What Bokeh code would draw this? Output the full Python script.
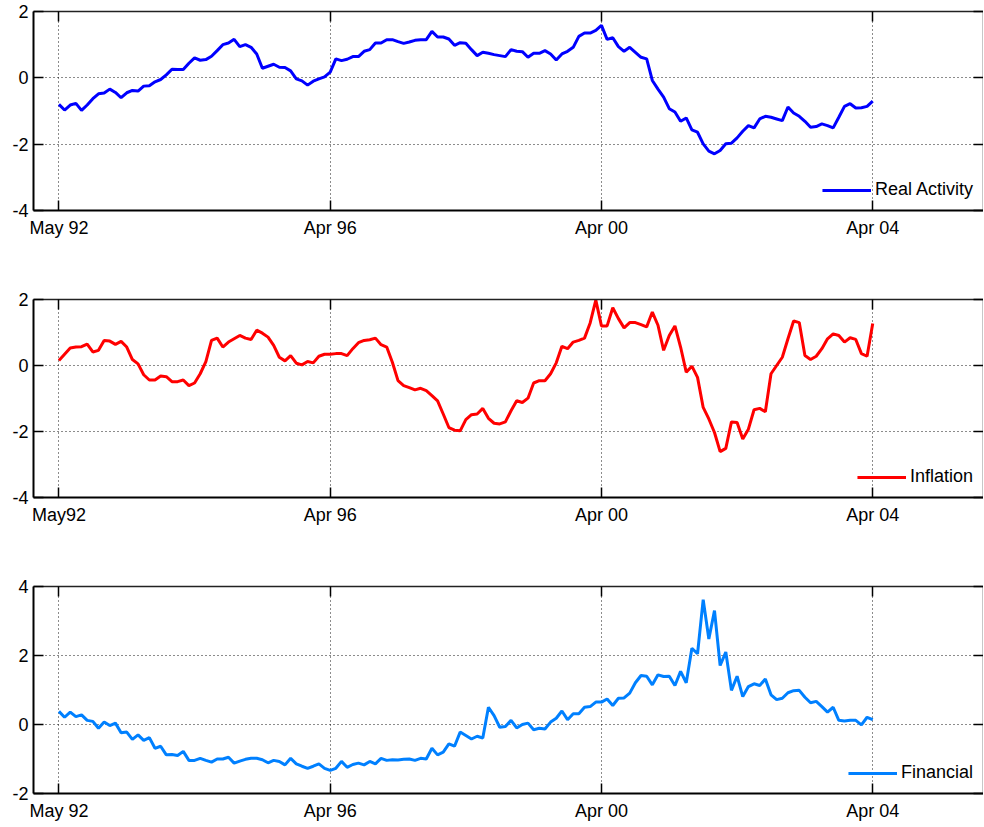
from bokeh.plotting import figure
from bokeh.layouts import column
from bokeh.models import FixedTicker, LinearAxis, Range1d
from bokeh.embed import file_html
from bokeh.resources import INLINE

months = list(range(145))
x_ticks = [0, 48, 96, 144]
x_labels_top = ["May 92", "Apr 96", "Apr 00", "Apr 04"]
x_labels_mid = ["May92", "Apr 96", "Apr 00", "Apr 04"]
x_labels_bot = ["May 92", "Apr 96", "Apr 00", "Apr 04"]

real_activity = [
    -0.80, -0.97, -0.82, -0.77, -0.98, -0.82, -0.63, -0.48, -0.46, -0.34,
    -0.44, -0.60, -0.45, -0.38, -0.40, -0.25, -0.24, -0.12, -0.05, 0.09,
    0.26, 0.25, 0.25, 0.44, 0.60, 0.53, 0.55, 0.65, 0.82, 1.00,
    1.05, 1.16, 0.94, 1.00, 0.92, 0.72, 0.29, 0.35, 0.41, 0.32,
    0.31, 0.21, -0.03, -0.09, -0.22, -0.10, -0.03, 0.03, 0.17, 0.57,
    0.52, 0.56, 0.64, 0.64, 0.80, 0.85, 1.05, 1.05, 1.15, 1.15,
    1.09, 1.04, 1.08, 1.13, 1.15, 1.15, 1.40, 1.23, 1.23, 1.17,
    0.98, 1.06, 1.04, 0.85, 0.67, 0.77, 0.74, 0.70, 0.67, 0.64,
    0.85, 0.80, 0.79, 0.62, 0.74, 0.74, 0.82, 0.72, 0.54, 0.72,
    0.80, 0.92, 1.25, 1.35, 1.35, 1.43, 1.58, 1.16, 1.21, 0.94,
    0.80, 0.92, 0.77, 0.62, 0.57, -0.08, -0.34, -0.58, -0.93, -1.03,
    -1.31, -1.21, -1.57, -1.64, -1.99, -2.21, -2.29, -2.19, -1.99, -1.97,
    -1.81, -1.61, -1.44, -1.51, -1.24, -1.16, -1.19, -1.24, -1.29, -0.88,
    -1.06, -1.16, -1.31, -1.49, -1.47, -1.39, -1.44, -1.51, -1.19, -0.86,
    -0.78, -0.91, -0.90, -0.86, -0.70,
]

inflation = [
    0.15, 0.34, 0.53, 0.56, 0.57, 0.65, 0.41, 0.46, 0.76, 0.74,
    0.64, 0.73, 0.56, 0.18, 0.05, -0.28, -0.44, -0.44, -0.32, -0.34,
    -0.49, -0.49, -0.44, -0.61, -0.53, -0.25, 0.12, 0.76, 0.83, 0.56,
    0.71, 0.81, 0.91, 0.83, 0.79, 1.07, 0.98, 0.86, 0.61, 0.25,
    0.14, 0.30, 0.07, 0.02, 0.12, 0.08, 0.28, 0.34, 0.34, 0.36,
    0.36, 0.30, 0.51, 0.69, 0.76, 0.78, 0.83, 0.63, 0.56, 0.10,
    -0.46, -0.61, -0.67, -0.74, -0.69, -0.76, -0.91, -1.07, -1.47, -1.88,
    -1.96, -1.98, -1.64, -1.49, -1.47, -1.30, -1.60, -1.75, -1.77, -1.71,
    -1.37, -1.07, -1.12, -0.99, -0.53, -0.46, -0.46, -0.25, 0.08, 0.58,
    0.51, 0.71, 0.76, 0.83, 1.29, 1.98, 1.20, 1.20, 1.75, 1.42,
    1.14, 1.30, 1.30, 1.24, 1.17, 1.62, 1.22, 0.46, 0.91, 1.20,
    0.56, -0.20, -0.02, -0.36, -1.27, -1.62, -2.03, -2.61, -2.51, -1.71,
    -1.73, -2.23, -1.93, -1.34, -1.30, -1.40, -0.25, 0.00, 0.25, 0.81,
    1.35, 1.30, 0.30, 0.18, 0.28, 0.51, 0.81, 0.96, 0.91, 0.71,
    0.84, 0.79, 0.36, 0.28, 1.27,
]

financial = [
    0.38, 0.21, 0.36, 0.23, 0.28, 0.12, 0.09, -0.11, 0.07, -0.03,
    0.04, -0.24, -0.22, -0.43, -0.30, -0.46, -0.38, -0.69, -0.63, -0.88,
    -0.87, -0.90, -0.78, -1.04, -1.04, -0.98, -1.04, -1.09, -1.00, -1.00,
    -0.95, -1.12, -1.06, -1.01, -0.98, -0.98, -1.02, -1.11, -1.04, -1.07,
    -1.17, -0.98, -1.14, -1.21, -1.27, -1.21, -1.14, -1.27, -1.33, -1.27,
    -1.07, -1.24, -1.16, -1.12, -1.17, -1.07, -1.14, -0.98, -1.04, -1.02,
    -1.03, -1.01, -1.00, -1.04, -0.98, -1.00, -0.69, -0.88, -0.80, -0.56,
    -0.63, -0.22, -0.32, -0.42, -0.34, -0.39, 0.50, 0.26, -0.08, -0.06,
    0.12, -0.10, 0.00, 0.04, -0.15, -0.11, -0.13, 0.07, 0.18, 0.39,
    0.14, 0.31, 0.31, 0.50, 0.52, 0.65, 0.65, 0.74, 0.55, 0.76,
    0.77, 0.91, 1.21, 1.42, 1.40, 1.15, 1.44, 1.39, 1.40, 1.13,
    1.54, 1.21, 2.21, 2.05, 3.62, 2.48, 3.30, 1.71, 2.10, 0.99,
    1.40, 0.81, 1.10, 1.18, 1.13, 1.32, 0.86, 0.72, 0.76, 0.92,
    0.98, 0.99, 0.79, 0.63, 0.67, 0.52, 0.36, 0.50, 0.12, 0.10,
    0.12, 0.12, -0.01, 0.21, 0.14,
]

y_ticks_12 = [-4, -2, 0, 2]
y_ticks_3 = [-2, 0, 2, 4]

FONT = "Liberation Sans"


def make_panel(values, color, label, xlabels, yticks, yrange, fh, btop, bbot):
    p = figure(frame_width=950, frame_height=fh,
               x_range=Range1d(-4.5, 163.6), y_range=Range1d(*yrange),
               min_border_left=33, min_border_right=0,
               min_border_top=btop, min_border_bottom=bbot,
               output_backend="svg", toolbar_location=None)
    p.line(months, values, line_color=color, line_width=3, legend_label=label)

    for ax, ticks, labels in ((p.xaxis[0], x_ticks, xlabels),
                              (p.yaxis[0], yticks, [str(t) for t in yticks])):
        ax.ticker = FixedTicker(ticks=ticks)
        ax.major_label_overrides = {t: l for t, l in zip(ticks, labels)}
        ax.major_label_text_font = FONT
        ax.major_label_text_font_size = "18px"
        ax.major_label_text_color = "black"
        ax.major_tick_in = 10
        ax.major_tick_out = 0
        ax.major_tick_line_width = 1.5
        ax.minor_tick_line_color = None
        ax.axis_line_width = 2
        ax.axis_line_color = "black"
        ax.major_tick_line_color = "black"
    p.xaxis.major_label_standoff = 7
    p.yaxis.major_label_standoff = 5

    top = LinearAxis(ticker=FixedTicker(ticks=x_ticks),
                     major_label_overrides={t: "" for t in x_ticks},
                     major_label_standoff=0, major_tick_in=10, major_tick_out=0,
                     major_tick_line_width=1.5,
                     minor_tick_line_color=None, axis_line_width=1.5,
                     axis_line_color="#222222")
    right = LinearAxis(ticker=FixedTicker(ticks=yticks),
                       major_label_overrides={t: "" for t in yticks},
                       major_label_standoff=0, major_tick_in=10, major_tick_out=0,
                       major_tick_line_width=1.5,
                       minor_tick_line_color=None, axis_line_width=1.5,
                       axis_line_color="#222222")
    p.add_layout(top, "above")
    p.add_layout(right, "right")

    for g, ticks in ((p.xgrid[0], x_ticks), (p.ygrid[0], yticks)):
        g.ticker = FixedTicker(ticks=ticks)
        g.grid_line_color = "black"
        g.grid_line_dash = "1 3"
        g.grid_line_width = 1
        g.grid_line_alpha = 0.9

    p.outline_line_color = None
    p.background_fill_color = "white"
    p.border_fill_color = "white"

    lg = p.legend[0]
    lg.location = "bottom_right"
    lg.border_line_color = None
    lg.background_fill_alpha = 0
    lg.label_text_font = FONT
    lg.label_text_font_size = "18px"
    lg.label_text_color = "black"
    lg.glyph_width = 49
    lg.label_standoff = 4
    lg.margin = 10
    lg.padding = 9
    lg.spacing = 0
    return p


p1 = make_panel(real_activity, "#0000FF", "Real Activity", x_labels_top,
                y_ticks_12, (-4, 2), 199, 11, 78)
p2 = make_panel(inflation, "#FF0000", "Inflation", x_labels_mid,
                y_ticks_12, (-4, 2), 198, 11, 79)
p3 = make_panel(financial, "#0080FF", "Financial", x_labels_bot,
                y_ticks_3, (-2, 4), 207, 10, 24)

layout = column(p1, p2, p3, spacing=0)

with open("out.html", "w") as f:
    f.write(file_html(layout, INLINE))
